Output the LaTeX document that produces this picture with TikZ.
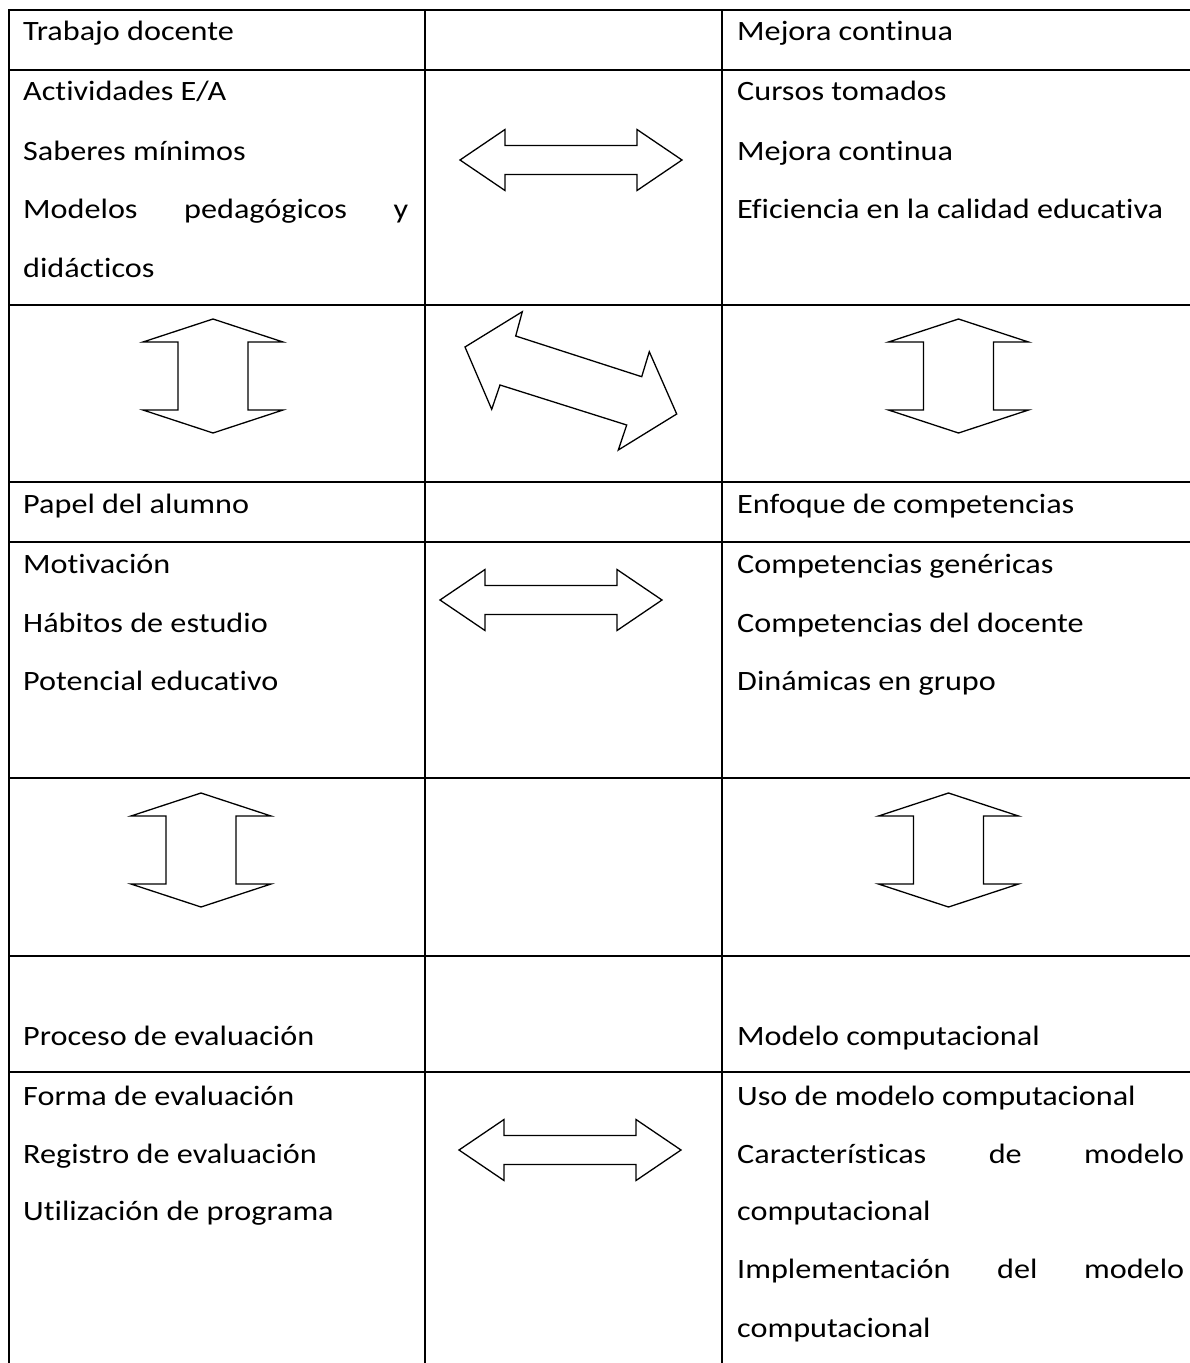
\documentclass[tikz,border=0pt]{standalone}
\usepackage{fontspec}
\setmainfont{Carlito}[FakeStretch=1.15, Ligatures=NoCommon]
\begin{document}
\begin{tikzpicture}[x=1pt,y=-1pt,
  hline/.style={line width=2.2pt, black},
  vline/.style={line width=1.8pt, black},
  dblarrow/.style={draw=black, line width=1.3pt, fill=white, line join=miter},
  lbl/.style={anchor=base west, inner sep=0pt, font=\fontsize{28}{34}\selectfont},
  hdbl/.pic={\draw[dblarrow] (-111,0) -- (-66,-30.5) -- (-66,-14.5) -- (66,-14.5) -- (66,-30.5) -- (111,0) -- (66,30.5) -- (66,14.5) -- (-66,14.5) -- (-66,30.5) -- cycle;},
  vdbl/.pic={\draw[dblarrow] (0,-57) -- (70,-34) -- (35,-34) -- (35,34) -- (70,34) -- (0,57) -- (-70,34) -- (-35,34) -- (-35,-34) -- (-70,-34) -- cycle;}
]
\useasboundingbox (0,0) rectangle (1190,1363);
\fill[white] (0,0) rectangle (1190,1363);

% table grid
\foreach \yy in {10,70,305,482,542,778,956,1072}
  \draw[hline] (8,\yy) -- (1190,\yy);
\foreach \xx in {9,425,722}
  \draw[vline] (\xx,9) -- (\xx,1363);

% arrows
\pic at (571,160) {hdbl};
\pic at (551,600) {hdbl};
\pic at (570,1150) {hdbl};
\pic at (213,376) {vdbl};
\pic at (958.5,376) {vdbl};
\pic at (201,850) {vdbl};
\pic at (948.5,850) {vdbl};
\draw[dblarrow] (465,347) -- (522.3,311.7) -- (515.7,336) -- (641.7,376.7) -- (649.3,351.7) -- (676.7,414) -- (618.3,450) -- (626.7,425) -- (500,385) -- (491.7,409.3) -- cycle;

% row 1
\node[lbl] (t1) at (23,40) {Trabajo docente};
\node[lbl] (m1) at (737,40) {Mejora continua};
% row 2
\node[lbl] (t2) at (23,100) {Actividades E/A};
\node[lbl] (t3) at (23,160) {Saberes mínimos};
\node[lbl] (t4) at (23,218) {\makebox[385pt][s]{Modelos pedagógicos y}};
\node[lbl] (t5) at (23,277) {didácticos};
\node[lbl] (m2) at (737,100) {Cursos tomados};
\node[lbl] (m3) at (737,160) {Mejora continua};
\node[lbl] (m4) at (737,218) {Eficiencia en la calidad educativa};
% row 4
\node[lbl] (p1) at (23,513) {Papel del alumno};
\node[lbl] (e1) at (737,513) {Enfoque de competencias};
% row 5
\node[lbl] (p2) at (23,573) {Motivación};
\node[lbl] (p3) at (23,632) {Hábitos de estudio};
\node[lbl] (p4) at (23,690) {Potencial educativo};
\node[lbl] (e2) at (737,573) {Competencias genéricas};
\node[lbl] (e3) at (737,632) {Competencias del docente};
\node[lbl] (e4) at (737,690) {Dinámicas en grupo};
% row 7
\node[lbl] (v1) at (23,1045) {Proceso de evaluación};
\node[lbl] (c1) at (737,1045) {Modelo computacional};
% row 8
\node[lbl] (v2) at (23,1105) {Forma de evaluación};
\node[lbl] (v3) at (23,1163) {Registro de evaluación};
\node[lbl] (v4) at (23,1220) {Utilización de programa};
\node[lbl] (c2) at (737,1105) {Uso de modelo computacional};
\node[lbl] (c3) at (737,1163) {\makebox[447pt][s]{Características de modelo}};
\node[lbl] (c4) at (737,1220) {computacional};
\node[lbl] (c5) at (737,1278) {\makebox[447pt][s]{Implementación del modelo}};
\node[lbl] (c6) at (737,1337) {computacional};
\end{tikzpicture}
\end{document}
